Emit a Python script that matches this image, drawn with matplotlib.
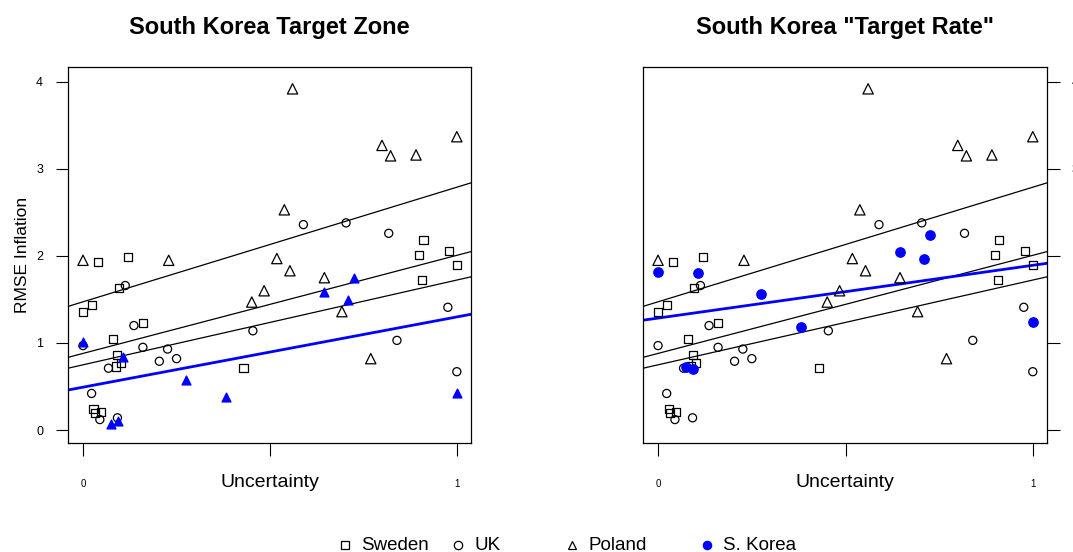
import numpy as np
import matplotlib.pyplot as plt
from matplotlib.lines import Line2D

plt.rcParams['font.family'] = ['Liberation Sans', 'DejaVu Sans']

# data
sweden_x = [0.041, 0.121, 0.096, 0.025, 0.0, 0.161, 0.081, 0.092, 0.101, 0.088,
            0.028, 0.032, 0.047, 0.429, 0.91, 0.898, 0.979, 0.999, 0.907]
sweden_y = [1.93, 1.99, 1.63, 1.44, 1.36, 1.23, 1.05, 0.86, 0.77, 0.73,
            0.24, 0.20, 0.21, 0.71, 2.18, 2.01, 2.06, 1.90, 1.72]

uk_x = [0.113, 0.136, 0.0, 0.16, 0.226, 0.204, 0.25, 0.068, 0.454, 0.023,
        0.092, 0.045, 0.589, 0.703, 0.817, 0.839, 0.975, 0.999]
uk_y = [1.66, 1.20, 0.97, 0.95, 0.93, 0.79, 0.82, 0.71, 1.14, 0.42,
        0.14, 0.12, 2.36, 2.38, 2.26, 1.03, 1.41, 0.67]

poland_x = [0.0, 0.229, 0.451, 0.484, 0.518, 0.553, 0.538, 0.56, 0.645, 0.692,
            0.769, 0.799, 0.822, 0.89, 0.999]
poland_y = [1.95, 1.95, 1.47, 1.60, 1.97, 1.83, 2.53, 3.92, 1.75, 1.36,
            0.82, 3.27, 3.15, 3.16, 3.37]

korea_x = [0.0, 0.106, 0.274, 0.381, 0.074, 0.094, 0.725, 0.645, 0.708, 0.999]
korea_zone_y = [1.01, 0.84, 0.58, 0.38, 0.07, 0.10, 1.75, 1.59, 1.49, 0.42]
korea_rate_y = [1.81, 1.80, 1.56, 1.18, 0.72, 0.70, 2.24, 2.05, 1.97, 1.24]

# fitted lines (intercept, slope)
fit_intercepts = [1.473, 0.88, 0.749]
fit_slopes = [1.318, 1.128, 0.975]
zone_fit = (0.492, 0.808)
rate_fit = (1.286, 0.607)

fig = plt.figure(figsize=(10.73, 5.52), dpi=100)
ax1 = fig.add_axes([0.0634, 0.1975, 0.3756, 0.681])
ax2 = fig.add_axes([0.5993, 0.1975, 0.3765, 0.681])

xlim = (-0.04, 1.037)
ylim = (-0.149, 4.17)
xx = np.array(xlim)


def draw_common(ax):
    ax.scatter(sweden_x, sweden_y, marker='s', s=34, facecolors='none',
               edgecolors='black', linewidths=0.9, zorder=3)
    ax.scatter(uk_x, uk_y, marker='o', s=34, facecolors='none',
               edgecolors='black', linewidths=0.9, zorder=3)
    ax.scatter(poland_x, poland_y, marker='^', s=55, facecolors='none',
               edgecolors='black', linewidths=0.9, zorder=3)
    for a, b in zip(fit_intercepts, fit_slopes):
        ax.plot(xx, a + b * xx, color='black', lw=0.9, zorder=2)
    ax.set_xlim(xlim)
    ax.set_ylim(ylim)
    ax.set_xticks([0, 0.5, 1])
    ax.set_xticklabels(['0', '', '1'], fontsize=7)
    ax.set_yticks([0, 1, 2, 3, 4])
    ax.tick_params(axis='both', length=9, width=0.8, pad=9)
    ax.tick_params(axis='x', pad=17)
    ax.tick_params(axis='y', labelsize=9)
    for sp in ax.spines.values():
        sp.set_linewidth(0.9)
    ax.text(0.5, -0.105, 'Uncertainty', transform=ax.transAxes,
            ha='center', va='center', fontsize=14)


draw_common(ax1)
ax1.scatter(korea_x, korea_zone_y, marker='^', s=40, color='blue', zorder=4)
ax1.plot(xx, zone_fit[0] + zone_fit[1] * xx, color='blue', lw=2, zorder=2)
ax1.set_title('South Korea Target Zone', fontsize=17, fontweight='bold', pad=24)
ax1.set_ylabel('RMSE Inflation', fontsize=12.5, labelpad=4)

draw_common(ax2)
ax2.scatter(korea_x, korea_rate_y, marker='o', s=45, color='blue', zorder=4)
ax2.plot(xx, rate_fit[0] + rate_fit[1] * xx, color='blue', lw=2, zorder=2)
ax2.set_title('South Korea "Target Rate"', fontsize=17, fontweight='bold', pad=24)
ax2.yaxis.tick_right()

# legend along the bottom
entries = [('s', 'none', 'black', 'Sweden', 345),
           ('o', 'none', 'black', 'UK', 458),
           ('^', 'none', 'black', 'Poland', 572),
           ('o', 'blue', 'blue', 'S. Korea', 707)]
for mk, fc, ec, label, px in entries:
    fx = px / 1073
    fy = 1 - 545 / 552
    fig.add_artist(Line2D([fx], [fy], marker=mk, markersize=6,
                          markerfacecolor=fc, markeredgecolor=ec,
                          markeredgewidth=0.9, linestyle='none',
                          transform=fig.transFigure))
    fig.text(fx + 16 / 1073, fy, label, ha='left', va='center', fontsize=13.5)

fig.savefig('out.png', dpi=100)
